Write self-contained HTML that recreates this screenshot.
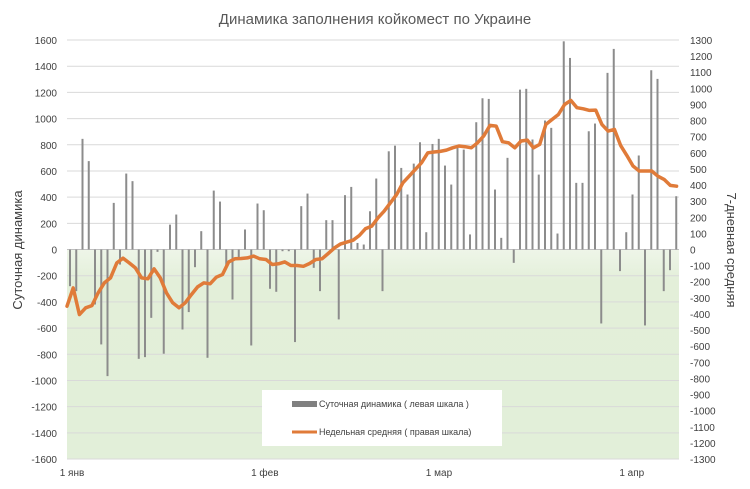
<!DOCTYPE html>
<html><head><meta charset="utf-8"><style>
body{margin:0;background:#fff;}
svg{display:block;font-family:"Liberation Sans",sans-serif;}
</style></head><body>
<svg id="chart" width="750" height="489" viewBox="0 0 750 489">
<defs><linearGradient id="g" x1="0" y1="0" x2="0" y2="1"><stop offset="0" stop-color="#eef5e8"/><stop offset="0.15" stop-color="#e3efd9"/><stop offset="1" stop-color="#e2efd9"/></linearGradient></defs>
<text x="375" y="24" text-anchor="middle" font-size="15" fill="#595959">Динамика заполнения койкомест по Украине</text>
<rect x="67" y="250" width="612" height="209" fill="url(#g)"/>
<g id="grid"></g><g id="bars"></g><g id="line"></g><g id="axes"></g>
<text transform="translate(22,250) rotate(-90)" text-anchor="middle" font-size="13" fill="#404040">Суточная динамика</text>
<text transform="translate(727,250) rotate(90)" text-anchor="middle" font-size="13" fill="#404040">7-дневная средняя</text>
<g>
<rect x="262" y="390" width="240" height="56" fill="#fff"/>
<rect x="292" y="401" width="25" height="6" fill="#808080"/>
<text x="319" y="407" font-size="9" fill="#404040">Суточная динамика ( левая шкала )</text>
<line x1="292" y1="432" x2="317" y2="432" stroke="#e07b39" stroke-width="3"/>
<text x="319" y="435" font-size="9" fill="#404040">Недельная средняя ( правая шкала)</text>
</g>
</svg>
<script>
const daily=[-280,-318,845,675,-420,-725,-967,356,-115,580,522,-835,-822,-522,-18,-796,190,267,-611,-478,-135,140,-827,450,366,-122,-382,-76,153,-733,351,300,-300,-323,-13,-13,-707,331,427,-140,-318,224,224,-534,415,478,50,38,
292,542,-318,750,793,623,420,656,819,132,806,845,641,496,776,763,115,972,1155,1150,458,89,700,-102,1221,1227,840,572,985,929,122,1590,1463,509,509,903,962,-565,1349,1532,-165,132,420,718,-580,1369,1303,-318,-158,407];
const weekly=[-352,-238,-404,-362,-348,-269,-207,-176,-83,-54,-83,-114,-176,-182,-120,-176,-269,-331,-362,-331,-280,-232,-207,-213,-172,-155,-77,-58,-56,-52,-41,-58,-62,-93,-89,-77,-99,-99,-104,-87,-62,-58,-25,10,35,46,58,87,130,
145,197,238,290,342,414,455,497,538,600,605,609,617,631,642,638,631,662,704,770,766,669,662,631,673,679,631,652,776,807,838,900,925,880,873,863,865,776,735,745,646,584,518,487,487,487,455,435,398,393];
const leftTicks=[1600,1400,1200,1000,800,600,400,200,0,-200,-400,-600,-800,-1000,-1200,-1400,-1600];
const rightTicks=[1300,1200,1100,1000,900,800,700,600,500,400,300,200,100,0,-100,-200,-300,-400,-500,-600,-700,-800,-900,-1000,-1100,-1200,-1300];
const xLabels=["1 янв","1 фев","1 мар","1 апр"];
const xLabelDays=[0,31,59,90];
const NS="http://www.w3.org/2000/svg";
const plotTop=40,plotBot=459,zeroY=249.5;
const yL=v=>zeroY-v*(plotBot-plotTop)/3200;
const yR=v=>zeroY-v*(plotBot-plotTop)/2600;
const xBar=i=>70+6.25*i;
const xLine=i=>67+6.22*i;
function mk(t,a,p){const e=document.createElementNS(NS,t);for(const k in a)e.setAttribute(k,a[k]);p.appendChild(e);return e;}
const grid=document.getElementById('grid'),axes=document.getElementById('axes');
leftTicks.forEach(v=>{
 const g=mk('line',{x1:67,x2:679,y1:yL(v),y2:yL(v),stroke:v===0?'#bfbfbf':'#d9d9d9','stroke-width':1},grid);
 
 
 const t=mk('text',{x:57,y:yL(v)+4,'text-anchor':'end','font-size':10,fill:'#404040'},axes);
 t.textContent=v;
 
 
});
rightTicks.forEach(v=>{
 const t=mk('text',{x:690,y:yR(v)+4,'font-size':10,fill:'#404040'},axes);
 t.textContent=v;
 
 
});
xLabels.forEach((s,i)=>{
 const t=mk('text',{x:xLine(xLabelDays[i])+5,y:476,'text-anchor':'middle','font-size':10,fill:'#404040'},axes);
 t.textContent=s;
 
 
});
const bars=document.getElementById('bars');
daily.forEach((v,i)=>{
 const y1=yL(Math.max(v,0)),y2=yL(Math.min(v,0));
 const r=mk('rect',{x:xBar(i)-1,y:y1,width:2,height:Math.max(y2-y1,0.5),fill:'#8c8c8c'},bars);
 
 
});
const pts=weekly.map((v,i)=>xLine(i).toFixed(1)+','+yR(v).toFixed(1)).join(' ');
const pl=mk('polyline',{points:pts,fill:'none',stroke:'#e07b39','stroke-width':3.5,'stroke-linejoin':'round','stroke-linecap':'round'},document.getElementById('line'));


</script>
</body></html>
